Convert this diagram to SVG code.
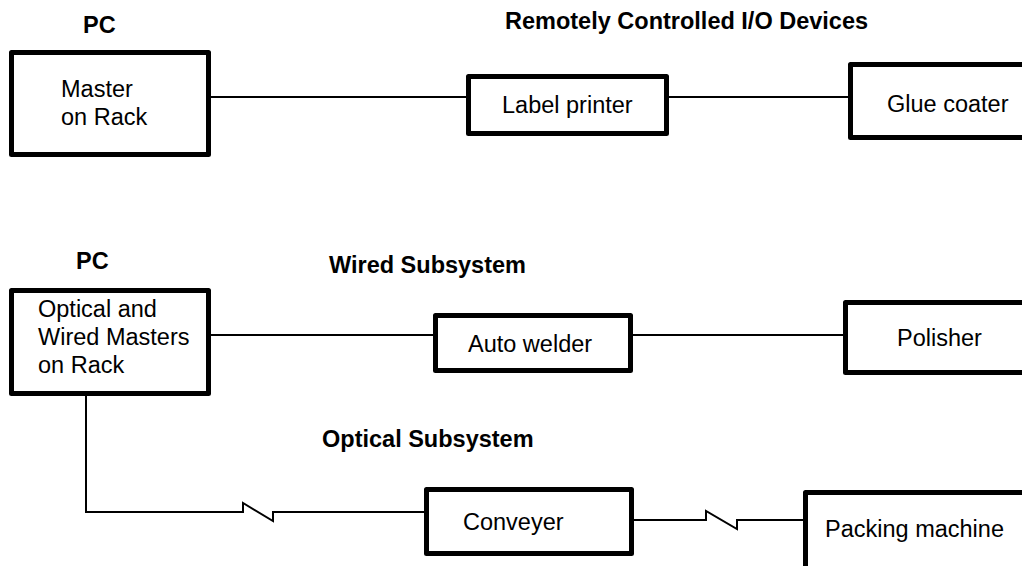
<svg xmlns="http://www.w3.org/2000/svg" width="1022" height="566" viewBox="0 0 1022 566">
<style>
.box{fill:#fff;stroke:#000;stroke-width:5;stroke-linejoin:round}
.con{fill:none;stroke:#000;stroke-width:2}
text{font-family:"Liberation Sans",Arial,sans-serif;font-size:23.5px;fill:#000}
.b{font-weight:bold}
</style>
<rect width="1022" height="566" fill="#fff"/>
<g id="labels">
<text class="b" x="83" y="33">PC</text>
<text class="b" x="505" y="29">Remotely Controlled I/O Devices</text>
<text class="b" x="76" y="269">PC</text>
<text class="b" x="329" y="273">Wired Subsystem</text>
<text class="b" x="322" y="447">Optical Subsystem</text>
</g>
<g id="connectors">
<line class="con" x1="211" y1="97" x2="466" y2="97"/>
<line class="con" x1="669" y1="97" x2="848" y2="97"/>
<line class="con" x1="211" y1="335" x2="433" y2="335"/>
<line class="con" x1="633" y1="335" x2="843" y2="335"/>
<path class="con" d="M86,396 V512 H243 V503 L273,521 V512 H424"/>
<path class="con" d="M634,520 H706 V511 L737,529 V520 H803"/>
</g>
<g id="master1">
<rect class="box" x="11.5" y="52.5" width="197" height="102"/>
<text x="61" y="97">Master</text>
<text x="61" y="125">on Rack</text>
</g>
<g id="labelprinter">
<rect class="box" x="468.5" y="76.5" width="198" height="57"/>
<text x="502" y="113">Label printer</text>
</g>
<g id="gluecoater">
<rect class="box" x="850.5" y="64.5" width="200" height="73"/>
<text x="887" y="112">Glue coater</text>
</g>
<g id="master2">
<rect class="box" x="11.5" y="290.5" width="197" height="103"/>
<text x="38" y="317">Optical and</text>
<text x="38" y="345">Wired Masters</text>
<text x="38" y="373">on Rack</text>
</g>
<g id="autowelder">
<rect class="box" x="435.5" y="315.5" width="195" height="55"/>
<text x="468" y="352">Auto welder</text>
</g>
<g id="polisher">
<rect class="box" x="845.5" y="302.5" width="200" height="70"/>
<text x="897" y="346">Polisher</text>
</g>
<g id="conveyer">
<rect class="box" x="426.5" y="489.5" width="205" height="64"/>
<text x="463" y="530">Conveyer</text>
</g>
<g id="packing">
<rect class="box" x="805.5" y="492.5" width="250" height="100"/>
<text x="825" y="537">Packing machine</text>
</g>
</svg>
